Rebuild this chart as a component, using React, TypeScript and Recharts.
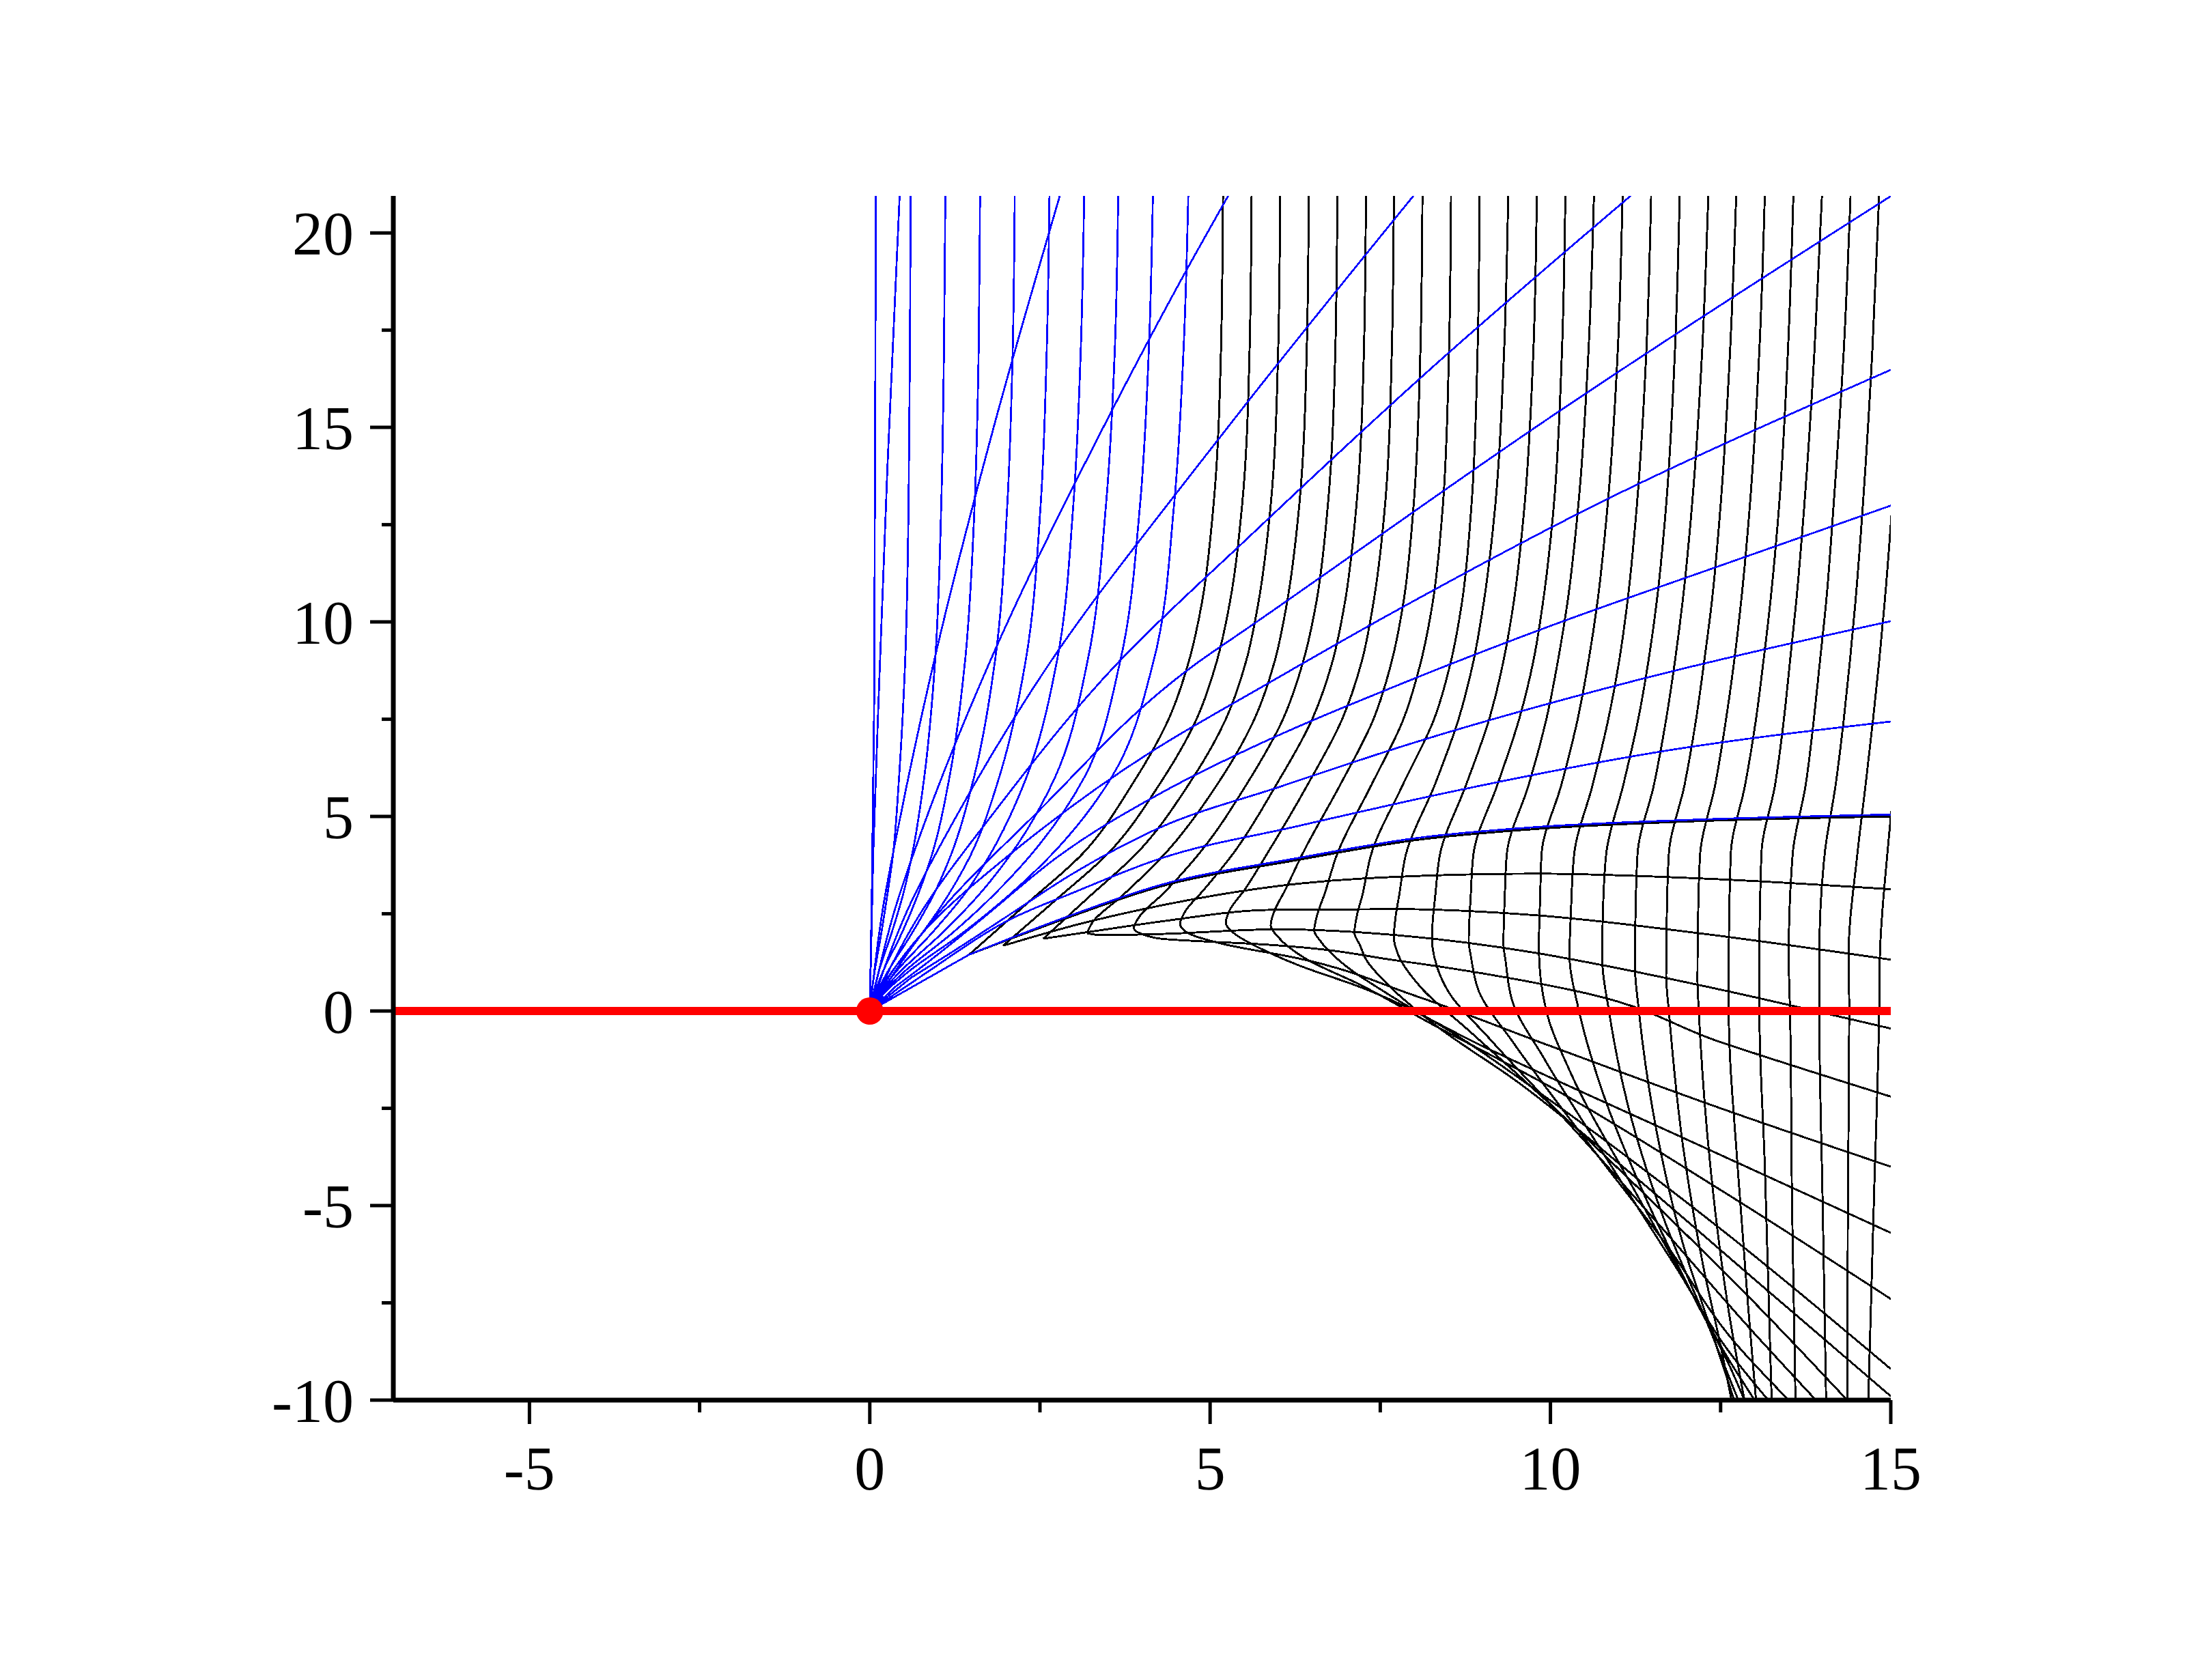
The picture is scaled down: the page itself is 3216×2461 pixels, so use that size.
import { LineChart, Line, XAxis, YAxis, ReferenceDot } from "recharts";

type P = [number, number];

// blue curves rising from the source and turning vertical (read at y = 0 … 21)
const blueVerticals: P[][] = [
  [[0, 0], [0.03, 3], [0.065, 8], [0.09, 21]],
  [[0, 0], [0.03, 0.5], [0.07, 1], [0.17, 2], [0.26, 3], [0.34, 4], [0.43, 6], [0.52, 9], [0.57, 13], [0.59, 17], [0.6, 21]],
  [[0, 0], [0.06, 0.5], [0.13, 1], [0.32, 2], [0.49, 3], [0.62, 4], [0.8, 6], [0.96, 9], [1.05, 13], [1.09, 17], [1.11, 21]],
  [[0, 0], [0.08, 0.5], [0.19, 1], [0.47, 2], [0.71, 3], [0.91, 4], [1.17, 6], [1.4, 9], [1.54, 13], [1.6, 17], [1.62, 21]],
  [[0, 0], [0.11, 0.5], [0.26, 1], [0.62, 2], [0.94, 3], [1.19, 4], [1.53, 6], [1.84, 9], [2.02, 13], [2.1, 17], [2.13, 21]],
  [[0, 0], [0.13, 0.5], [0.32, 1], [0.77, 2], [1.16, 3], [1.48, 4], [1.9, 6], [2.29, 9], [2.51, 13], [2.6, 17], [2.64, 21]],
  [[0, 0], [0.16, 0.5], [0.38, 1], [0.91, 2], [1.39, 3], [1.76, 4], [2.3, 6], [2.75, 9], [2.99, 13], [3.1, 17], [3.15, 21]],
  [[0, 0], [0.18, 0.5], [0.44, 1], [1.06, 2], [1.61, 3], [2.06, 4], [2.72, 6], [3.2, 9], [3.47, 13], [3.6, 17], [3.65, 21]],
  [[0, 0], [0.21, 0.5], [0.5, 1], [1.21, 2], [1.83, 3], [2.36, 4], [3.15, 6], [3.68, 9], [3.97, 13], [4.1, 17], [4.16, 21]],
  [[0, 0], [0.23, 0.5], [0.56, 1], [1.36, 2], [2.06, 3], [2.66, 4], [3.55, 6], [4.17, 9], [4.47, 13], [4.61, 17], [4.68, 21]],
];

// blue slanted curves, far end first
const blueSteep: P[][] = [
  [[0.44, 21], [0.26, 14], [0.15, 8.96], [0.05, 4], [0, 0]],
  [[2.8, 21], [1.82, 15], [0.94, 8.96], [0.45, 5], [0.18, 2.5], [0, 0]],
  [[5.28, 21], [4.75, 19.35], [3.43, 15], [1.76, 8.96], [0.84, 5], [0.35, 2.5], [0, 0]],
  [[8.01, 21], [5.58, 15.72], [4.78, 13.93], [2.65, 8.96], [1.27, 5], [0.53, 2.5], [0, 0]],
  [[11.21, 21], [8.3, 16.6], [5.58, 12.2], [3.65, 8.96], [1.78, 5], [0.74, 2.5], [0, 0]],
  [[15.05, 21], [10.2, 15.5], [5.55, 9.84], [4.82, 8.96], [2.4, 5], [1.0, 2.5], [0, 0]],
  [[15, 16.48], [11, 13.3], [7.63, 10.19], [5.87, 8.44], [4.15, 6.68], [2.04, 4], [0.77, 2], [0.25, 0.8], [0, 0]],
];
const blueFlat: P[][] = [
  [[15, 12.99], [12.5, 11.45], [9.91, 9.84], [7.85, 8.44], [5.5, 6.68], [4.37, 5.69], [2.75, 3.95], [1.6, 2.3], [0.85, 1.25], [0.38, 0.63]],
  [[15, 10.02], [11.13, 8.44], [8, 6.9], [6, 5.75], [4.27, 4.72], [3, 3.55], [1.9, 2.3], [1.15, 1.45], [0.61, 0.86]],
  [[15, 7.44], [11.66, 6.68], [8.5, 5.62], [6.28, 4.75], [4.27, 3.92], [3, 3.05], [2, 2.3], [0.98, 1.16]],
  [[15, 5.05], [12, 4.91], [9.8, 4.73], [8.05, 4.45], [6.28, 3.93], [4.27, 3.24], [2.8, 2.36], [1.46, 1.45]],
];
const foldRays: P[][] = [
  [[0, 0], [0.19, 0.39]],
  [[0, 0], [0.38, 0.63]],
  [[0, 0], [0.61, 0.86]],
  [[0, 0], [0.98, 1.16]],
  [[0, 0], [1.46, 1.45]],
];

// black curves ending in a cusp: upper arm and lower arm
const cuspUpper: P[][] = [
  [[5.19, 21], [5.16, 17], [5.05, 13], [4.88, 10.5], [4.69, 9], [4.39, 7.5], [3.85, 5.81], [3.13, 4.05], [2.3, 2.75], [1.46, 1.45]],
  [[5.61, 21], [5.58, 17], [5.47, 13], [5.29, 10.5], [5.1, 9], [4.8, 7.5], [4.25, 5.81], [3.5, 4.05], [2.73, 2.85], [1.96, 1.68]],
  [[6.03, 21], [6.0, 17], [5.89, 13], [5.71, 10.5], [5.53, 9], [5.23, 7.5], [4.68, 5.81], [3.92, 4.05], [3.2, 2.9], [2.55, 1.86]],
  [[6.45, 21], [6.42, 17], [6.31, 13], [6.13, 10.5], [5.95, 9], [5.65, 7.5], [5.1, 5.81], [4.34, 4.05], [3.7, 2.95], [3.28, 2.3], [3.19, 2.0]],
];
const cuspLower: P[][] = [
  [[1.46, 1.45], [2.8, 2.33], [4.27, 3.2], [6.28, 3.88], [8.05, 4.4], [9.8, 4.68], [12, 4.87], [15, 5.0]],
  [[1.96, 1.68], [3.0, 2.2], [4.27, 2.71], [6.28, 3.27], [7.28, 3.41], [9.8, 3.53], [12.18, 3.41], [15, 3.13]],
  [[2.55, 1.86], [3.4, 2.08], [4.27, 2.3], [5.89, 2.6], [7.74, 2.62], [9.8, 2.46], [12.18, 2.0], [15, 1.32]],
  [[3.19, 2.0], [3.4, 1.95], [4.27, 1.98], [6.0, 2.1], [7.74, 1.95], [9.8, 1.49], [10.82, 1.16], [12.18, 0.67], [15, -0.45]],
];

// black curves coming down from the top edge, turning at the fold
const blackCurves: P[][] = [
  [[6.87, 21], [6.84, 17], [6.73, 13], [6.56, 10.5], [6.37, 9], [6.07, 7.5], [5.53, 5.81], [4.84, 4.05], [4.3, 3.0], [3.97, 2.45], [3.88, 2.12], [4.0, 1.98], [4.27, 1.86], [5.8, 1.71], [7.74, 1.3], [10.31, 0.54], [12.5, -0.8], [15, -2.2]],
  [[7.29, 21], [7.26, 17], [7.15, 13], [6.98, 10.5], [6.8, 9], [6.5, 7.5], [5.97, 5.81], [5.34, 4.05], [4.9, 3.1], [4.63, 2.55], [4.56, 2.24], [4.68, 2.0], [5.2, 1.72], [6.28, 1.36], [8.0, 0.4], [10, -0.9], [12.5, -2.5], [15, -4.0]],
  [[7.7, 21], [7.67, 17], [7.57, 13], [7.4, 10.5], [7.23, 9], [6.94, 7.5], [6.43, 5.81], [5.84, 4.05], [5.5, 3.1], [5.29, 2.6], [5.23, 2.27], [5.35, 2.0], [5.75, 1.6], [6.28, 1.19], [7.2, 0.62], [9.0, -0.9], [12.0, -3.3], [15, -5.7]],
  [[8.12, 21], [8.09, 17], [7.99, 13], [7.84, 10.5], [7.67, 9], [7.4, 7.5], [6.91, 5.81], [6.36, 4.05], [6.1, 3.1], [5.94, 2.55], [5.89, 2.2], [6.0, 1.9], [6.4, 1.35], [7.2, 0.68], [8.2, -0.28], [10, -1.95], [12.5, -4.6], [15, -7.4]],
  [[8.54, 21], [8.51, 17], [8.42, 13], [8.27, 10.5], [8.1, 9], [7.84, 7.5], [7.37, 5.81], [6.87, 4.05], [6.68, 3.0], [6.57, 2.45], [6.53, 2.07], [6.62, 1.8], [7.0, 1.15], [7.6, 0.45], [8.6, -0.6], [10, -2.3], [12.5, -5.6], [15, -9.2]],
  [[8.96, 21], [8.93, 17], [8.84, 13], [8.7, 10.5], [8.54, 9], [8.29, 7.5], [7.83, 5.81], [7.37, 4.05], [7.24, 3.0], [7.15, 2.4], [7.12, 2.01], [7.2, 1.7], [7.3, 1.3], [7.6, 0.7], [8.3, -0.35], [9.5, -1.8], [11.2, -4.2], [13, -6.9], [15, -9.9]],
  [[9.38, 21], [9.32, 17], [9.19, 13], [9.02, 10.5], [8.87, 9], [8.65, 7.5], [8.3, 5.81], [7.88, 4.05], [7.78, 3.0], [7.72, 2.35], [7.7, 1.9], [7.77, 1.42], [8.1, 0.6], [8.8, -0.5], [10.0, -2.4], [11.5, -4.9], [13, -7.5], [14.36, -10]],
  [[9.8, 21], [9.75, 17], [9.62, 13], [9.46, 10.5], [9.31, 9], [9.1, 7.5], [8.76, 5.81], [8.38, 4.05], [8.31, 3.0], [8.27, 2.3], [8.26, 1.84], [8.29, 1.42], [8.5, 0.5], [9.1, -0.7], [10.3, -2.95], [11.6, -5.5], [12.9, -8.1], [13.9, -10]],
  [[10.22, 21], [10.17, 17], [10.05, 13], [9.89, 10.5], [9.75, 9], [9.54, 7.5], [9.22, 5.81], [8.87, 4.05], [8.83, 3.0], [8.8, 1.78], [8.83, 1.42], [8.95, 0.5], [9.45, -0.8], [10.6, -3.5], [11.7, -6.0], [12.7, -8.5], [13.5, -10]],
  [[10.64, 21], [10.56, 17], [10.41, 13], [10.25, 10.5], [10.11, 9], [9.94, 7.5], [9.68, 5.81], [9.36, 4.05], [9.33, 3.0], [9.31, 1.73], [9.34, 1.3], [9.45, 0.2], [9.9, -1.2], [10.9, -4.0], [11.85, -6.6], [12.6, -8.7], [13.2, -10]],
  [[11.06, 21], [10.99, 17], [10.84, 13], [10.69, 10.5], [10.56, 9], [10.4, 7.5], [10.16, 5.81], [9.87, 4.05], [9.85, 3.0], [9.83, 1.61], [9.94, 0], [10.3, -1.6], [11.2, -4.5], [12.0, -7.0], [12.6, -8.9], [13.0, -10]],
  [[11.48, 21], [11.41, 17], [11.27, 13], [11.13, 10.5], [11.01, 9], [10.85, 7.5], [10.62, 5.81], [10.35, 4.05], [10.3, 2.5], [10.28, 1.45], [10.42, 0], [10.75, -2.0], [11.45, -5.0], [12.15, -7.5], [12.6, -9.0], [12.85, -10]],
  [[11.9, 21], [11.83, 17], [11.7, 13], [11.56, 10.5], [11.44, 9], [11.29, 7.5], [11.07, 5.81], [10.82, 4.05], [10.77, 2.5], [10.76, 1.35], [10.86, 0], [11.15, -2.5], [11.7, -5.5], [12.3, -8.0], [12.76, -10]],
  [[12.32, 21], [12.23, 17], [12.08, 13], [11.94, 10.5], [11.83, 9], [11.7, 7.5], [11.52, 5.81], [11.28, 4.05], [11.25, 2.5], [11.24, 1.2], [11.3, 0], [11.55, -3.0], [11.95, -6.0], [12.4, -8.4], [12.7, -10]],
  [[12.73, 21], [12.64, 17], [12.5, 13], [12.37, 10.5], [12.26, 9], [12.14, 7.5], [11.97, 5.81], [11.74, 4.05], [11.71, 2.5], [11.7, 0.9], [11.74, 0], [11.95, -3.5], [12.25, -6.6], [12.5, -8.6], [12.66, -10]],
  [[13.15, 21], [13.07, 17], [12.93, 13], [12.8, 10.5], [12.7, 9], [12.58, 7.5], [12.42, 5.81], [12.2, 4.05], [12.17, 2.5], [12.16, 0.8], [12.18, 0], [12.35, -4], [12.6, -7.5], [12.85, -10]],
  [[13.57, 21], [13.49, 17], [13.36, 13], [13.23, 10.5], [13.13, 9], [13.02, 7.5], [12.86, 5.81], [12.65, 4.05], [12.62, 1.42], [12.62, 0], [12.75, -4], [12.9, -7.5], [13.02, -10]],
  [[13.99, 21], [13.88, 17], [13.73, 13], [13.61, 10.5], [13.52, 9], [13.43, 7.5], [13.3, 5.81], [13.1, 4.05], [13.07, 1.42], [13.07, 0], [13.15, -4], [13.2, -7], [13.25, -10]],
  [[14.41, 21], [14.31, 17], [14.16, 13], [14.05, 10.5], [13.96, 9], [13.87, 7.5], [13.75, 5.81], [13.56, 4.05], [13.5, 1.42], [13.52, 0], [13.55, -5], [13.6, -10]],
  [[14.83, 21], [14.73, 17], [14.59, 13], [14.48, 10.5], [14.4, 9], [14.31, 7.5], [14.19, 5.81], [14.03, 4.05], [13.95, 1.42], [13.95, 0], [14.0, -5], [14.05, -10]],
  [[15.25, 21], [15.15, 17], [15.02, 13], [14.91, 10.5], [14.83, 9], [14.74, 7.5], [14.63, 5.81], [14.51, 4.05], [14.38, 1.42], [14.39, 0], [14.37, -5], [14.36, -10]],
  [[15.67, 21], [15.57, 17], [15.44, 13], [15.33, 10.5], [15.25, 9], [15.16, 7.5], [15.05, 5.81], [14.95, 4.05], [14.84, 1.42], [14.83, 0], [14.75, -5], [14.67, -10]],
];

const boundary: P[] = [[-7, 0], [15, 0]];
const source: P = [0, 0];

const xTicks = [-5, -2.5, 0, 2.5, 5, 7.5, 10, 12.5, 15];
const yTicks = [-10, -7.5, -5, -2.5, 0, 2.5, 5, 7.5, 10, 12.5, 15, 17.5, 20];

const BLUE = "#0000ff";
const BLACK = "#000000";
const RED = "#ff0000";
const FONT = "'Liberation Serif', 'Times New Roman', serif";

const pts = (a: P[]) => a.map(([x, y]) => ({ x, y }));
const isMajor = (v: number) => Math.abs(v % 5) < 1e-9;

function YTick(props: any) {
  const { x, y, payload } = props;
  const v = payload.value as number;
  const major = isMajor(v);
  return (
    <g>
      <line x1={x} y1={y} x2={x - (major ? 34 : 17)} y2={y} stroke={BLACK} strokeWidth={5} />
      {major && (
        <text x={x - 58} y={y} dy="0.355em" textAnchor="end" fontSize={90} fontFamily={FONT} fill={BLACK}>
          {v}
        </text>
      )}
    </g>
  );
}

function XTick(props: any) {
  const { x, y, payload } = props;
  const v = payload.value as number;
  const major = isMajor(v);
  return (
    <g>
      <line x1={x} y1={y} x2={x} y2={y + (major ? 35 : 18)} stroke={BLACK} strokeWidth={5} />
      {major && (
        <text x={x} y={y + 67} dy="0.71em" textAnchor="middle" fontSize={90} fontFamily={FONT} fill={BLACK}>
          {v}
        </text>
      )}
    </g>
  );
}

function curve(key: string, data: P[], color: string, type: any, width = 2.9) {
  return (
    <Line
      key={key}
      data={pts(data)}
      dataKey="y"
      type={type}
      stroke={color}
      strokeWidth={width}
      dot={false}
      activeDot={false}
      legendType="none"
      isAnimationActive={false}
    />
  );
}

export default function App() {
  return (
    <div>
      <style>{`.recharts-line-curve{shape-rendering:crispEdges}`}</style>
      <LineChart width={3200} height={2445} margin={{ top: 279, right: 439, bottom: 302, left: 468 }}>
        <XAxis
          dataKey="x"
          type="number"
          domain={[-7, 15]}
          allowDataOverflow
          ticks={xTicks}
          interval={0}
          height={100}
          tickSize={0}
          tickMargin={0}
          tickLine={false}
          axisLine={{ stroke: BLACK, strokeWidth: 7 }}
          tick={XTick}
        />
        <YAxis
          type="number"
          domain={[-10, 20.95]}
          allowDataOverflow
          ticks={yTicks}
          interval={0}
          width={100}
          tickSize={0}
          tickMargin={0}
          tickLine={false}
          axisLine={{ stroke: BLACK, strokeWidth: 7 }}
          tick={YTick}
        />
        {cuspUpper.map((c, i) => curve(`ku${i}`, c, BLACK, "monotoneY"))}
        {cuspLower.map((c, i) => curve(`kl${i}`, c, BLACK, "monotone"))}
        {blackCurves.map((c, i) => curve(`k${i}`, c, BLACK, "monotoneY"))}
        {blueVerticals.map((c, i) => curve(`bv${i}`, c, BLUE, "monotoneY", 2.7))}
        {blueSteep.map((c, i) => curve(`bs${i}`, c, BLUE, "monotoneY", 2.7))}
        {blueFlat.map((c, i) => curve(`bf${i}`, c, BLUE, "monotone", 2.7))}
        {foldRays.map((c, i) => curve(`fr${i}`, c, BLUE, "linear", 2.7))}
        {curve("boundary", boundary, RED, "linear", 12)}
        <ReferenceDot x={source[0]} y={source[1]} r={20} fill={RED} stroke="none" />
      </LineChart>
    </div>
  );
}
